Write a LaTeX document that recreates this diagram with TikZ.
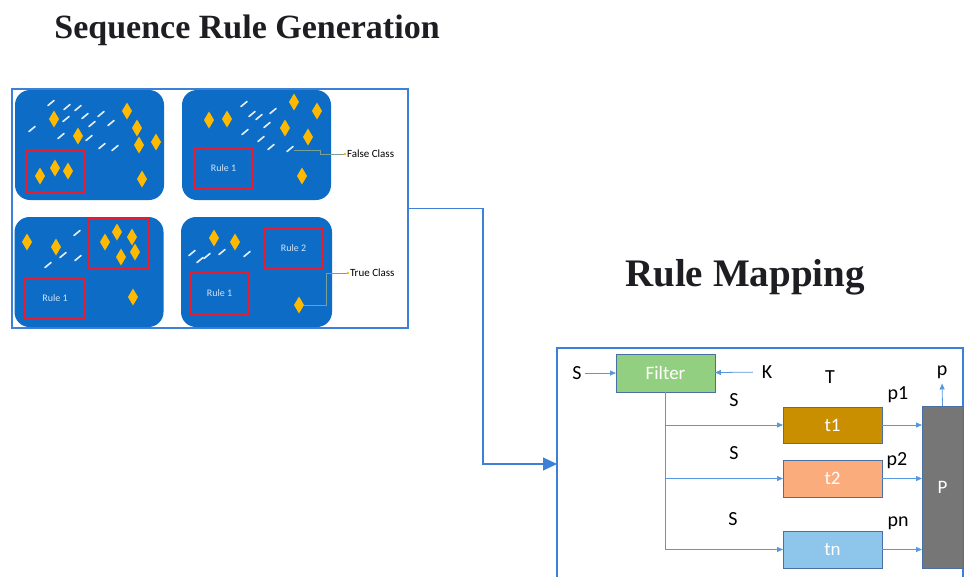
\documentclass[tikz,border=0pt]{standalone}
\usepackage{fontspec}
\newfontfamily\calibri{Carlito}
\newfontfamily\headfont{Liberation Serif}
\usetikzlibrary{shapes.geometric,arrows.meta}

\definecolor{framebl}{RGB}{60,128,215}
\definecolor{panelbl}{RGB}{12,108,198}
\definecolor{gemor}{RGB}{255,186,0}
\definecolor{rulered}{RGB}{232,28,44}
\definecolor{linebl}{RGB}{88,152,222}
\definecolor{filtgr}{RGB}{147,207,128}
\definecolor{boxedge}{RGB}{72,112,165}
\definecolor{tone}{RGB}{201,143,0}
\definecolor{ttwo}{RGB}{250,172,125}
\definecolor{tlast}{RGB}{142,197,234}
\definecolor{pgray}{RGB}{118,118,118}
\definecolor{tagline}{RGB}{120,160,150}
\definecolor{titlek}{RGB}{30,30,34}

\begin{document}
\begin{tikzpicture}[x=1pt,y=-1pt]
\tikzset{ >=Latex, inner sep=0pt, outer sep=0pt,
  frame/.style={draw=framebl, line width=1.2pt, fill=white},
  panel/.style={fill=panelbl, rounded corners=15pt, minimum width=149pt, minimum height=110pt},
  rulebox/.style={draw=rulered, line width=1.4pt, text=white!82!panelbl, font=\calibri\fontsize{10}{10}\selectfont},
  gem/.style={diamond, fill=gemor, minimum width=10pt, minimum height=17pt},
  streak/.style={draw=white!90!panelbl, line width=1.6pt, line cap=round},
  tag/.style={draw=tagline, line width=0.6pt},
  tagtext/.style={font=\calibri\fontsize{11}{11}\selectfont, inner sep=2pt},
  block/.style={draw=boxedge, line width=0.9pt, text=white, minimum width=99pt, minimum height=37pt, font=\calibri\fontsize{19}{19}\selectfont},
  lbl/.style={font=\calibri\fontsize{20}{20}\selectfont, inner sep=3pt},
  flow/.style={draw=linebl, line width=0.8pt, -{Triangle[length=6pt,width=5pt]}},
  title/.style={text=titlek},
}

\useasboundingbox (0,0) rectangle (965,576);

%%% Titulos
\node [title, anchor=base, font=\headfont\bfseries\fontsize{34}{35}\selectfont] (titleSeq) at (247,38) {Sequence Rule Generation};
\node [title, anchor=base, font=\headfont\bfseries\fontsize{39}{40}\selectfont] (titleMap) at (745,286) {Rule Mapping};

%%% Sequence Rule Generation

\node [frame, minimum width=396pt, minimum height=239pt] (LFrame) at (210,208.5) { };

% paineis
\node [panel] (pan1) at (89.5,145) { };
\node [panel] (pan2) at (256.5,145) { };
\node [panel] (pan3) at (89,272) { };
\node [panel, minimum width=151pt] (pan4) at (256.5,272) { };

% regras
\node [rulebox, minimum width=58pt, minimum height=42pt] (rule1a) at (55,172) { };
\node [rulebox, minimum width=59pt, minimum height=41pt] (rule1b) at (223.5,168.5) {Rule 1};
\node [rulebox, minimum width=59pt, minimum height=49pt] (rule3a) at (118.5,243.5) { };
\node [rulebox, minimum width=60pt, minimum height=40pt] (rule3b) at (55,298) {Rule 1};
\node [rulebox, minimum width=59pt, minimum height=41pt] (rule4a) at (293.5,248.5) {Rule 2};
\node [rulebox, minimum width=59pt, minimum height=42pt] (rule4b) at (219.5,293) {Rule 1};

% itens
\foreach \x/\y [count=\i] in {54/119,127/111,137/128,78/136,139/145,156/142,40/176,55/168,68/171,142/179}
  \node [gem] (gemA\i) at (\x,\y) { };
\foreach \x/\y [count=\i] in {209/120,227/119,294/102,317/111,285/128,308/137,302/176}
  \node [gem] (gemB\i) at (\x,\y) { };
\foreach \x/\y [count=\i] in {27/242,56/247,105/242,117/232,132/237,121/257,135/252,133/297}
  \node [gem] (gemC\i) at (\x,\y) { };
\node [gem] (gemD1) at (214,238) { };
\node [gem] (gemD2) at (235,242) { };
\node [gem] (gemT) at (299,305) { };

\foreach \x/\y in {51/103,67/107,78/108,66/119,85/116,101/114,32/129,92/124,111/123,61/136,89/138,102/146,115/148,
                   244/104,252/114,259/117,273/111,245/132,267/125,261/139,271/147,
                   77/233,63/255,48/265,78/258,
                   192/253,200/260,207/256,222/252,247/254}
  \draw [streak] (\x,\y) ++(-3,2.5) -- ++(6,-5);
\draw [streak] (290,149) ++(-3,2.5) -- ++(6,-5);

% classes
\coordinate (falseFrom) at (294,150);
\node [tagtext, anchor=west] (falseLbl) at (345,154) {False Class};
\draw [tag] (falseFrom) -- ++(26,0) |- (falseLbl.west);
\fill [gemor] (falseLbl.west) circle (1.3);

\node [tagtext, anchor=west] (trueLbl) at (348,273) {True Class};
\draw [tag] (gemT.east) -- ++(22,0) |- (trueLbl.west);
\fill [gemor] (trueLbl.west) circle (1.3);

%%% Rule Mapping

\node [frame, minimum width=406pt, minimum height=232pt] (RFrame) at (760,464) { };

% blocos
\node [block, fill=filtgr, minimum height=38pt] (Filter) at (665.5,373) {Filter};
\node [block, fill=tone, minimum height=36pt] (T1) at (832.5,425) {t1};
\node [block, fill=ttwo] (T2) at (832.5,478.5) {t2};
\node [block, fill=tlast] (Tn) at (832.5,549.5) {tn};
\node [block, fill=pgray, minimum width=41pt, minimum height=162pt] (Pbox) at (942.5,487) {P};

% rotulos
\node [lbl] (Sin) at (577,373) {S};
\node [lbl] (Kin) at (767,372) {K};
\node [lbl] (Tlbl) at (830,377) {T};
\node [lbl] (S1) at (734,400) {S};
\node [lbl] (S2) at (734,453) {S};
\node [lbl] (S3) at (733,519) {S};
\node [lbl] (p1) at (898,395) {p1};
\node [lbl] (p2) at (897,461) {p2};
\node [lbl] (pn) at (898,523) {pn};
\node [lbl] (pout) at (942,372) {p};

% linhas
\draw [flow] (Sin) -- (Filter);
\draw [flow, shorten <=6pt] (Kin) -- (Filter);
\draw [flow] (Filter.south) |- (T1.west);
\draw [flow] (Filter.south) |- (T2.west);
\draw [flow] (Filter.south) |- (Tn.west);
\draw [flow] (T1.east) -- (T1.east -| Pbox.west);
\draw [flow] (T2.east) -- (T2.east -| Pbox.west);
\draw [flow] (Tn.east) -- (Tn.east -| Pbox.west);
\draw [flow, shorten >=2pt] (Pbox.north) -- (pout.south);

% geracao -> mapeamento
\draw [draw=framebl, line width=1.2pt, -{Triangle[length=14pt,width=13pt]}] (LFrame.east) -- ++(75,0) |- (RFrame.west);

\end{tikzpicture}
\end{document}
